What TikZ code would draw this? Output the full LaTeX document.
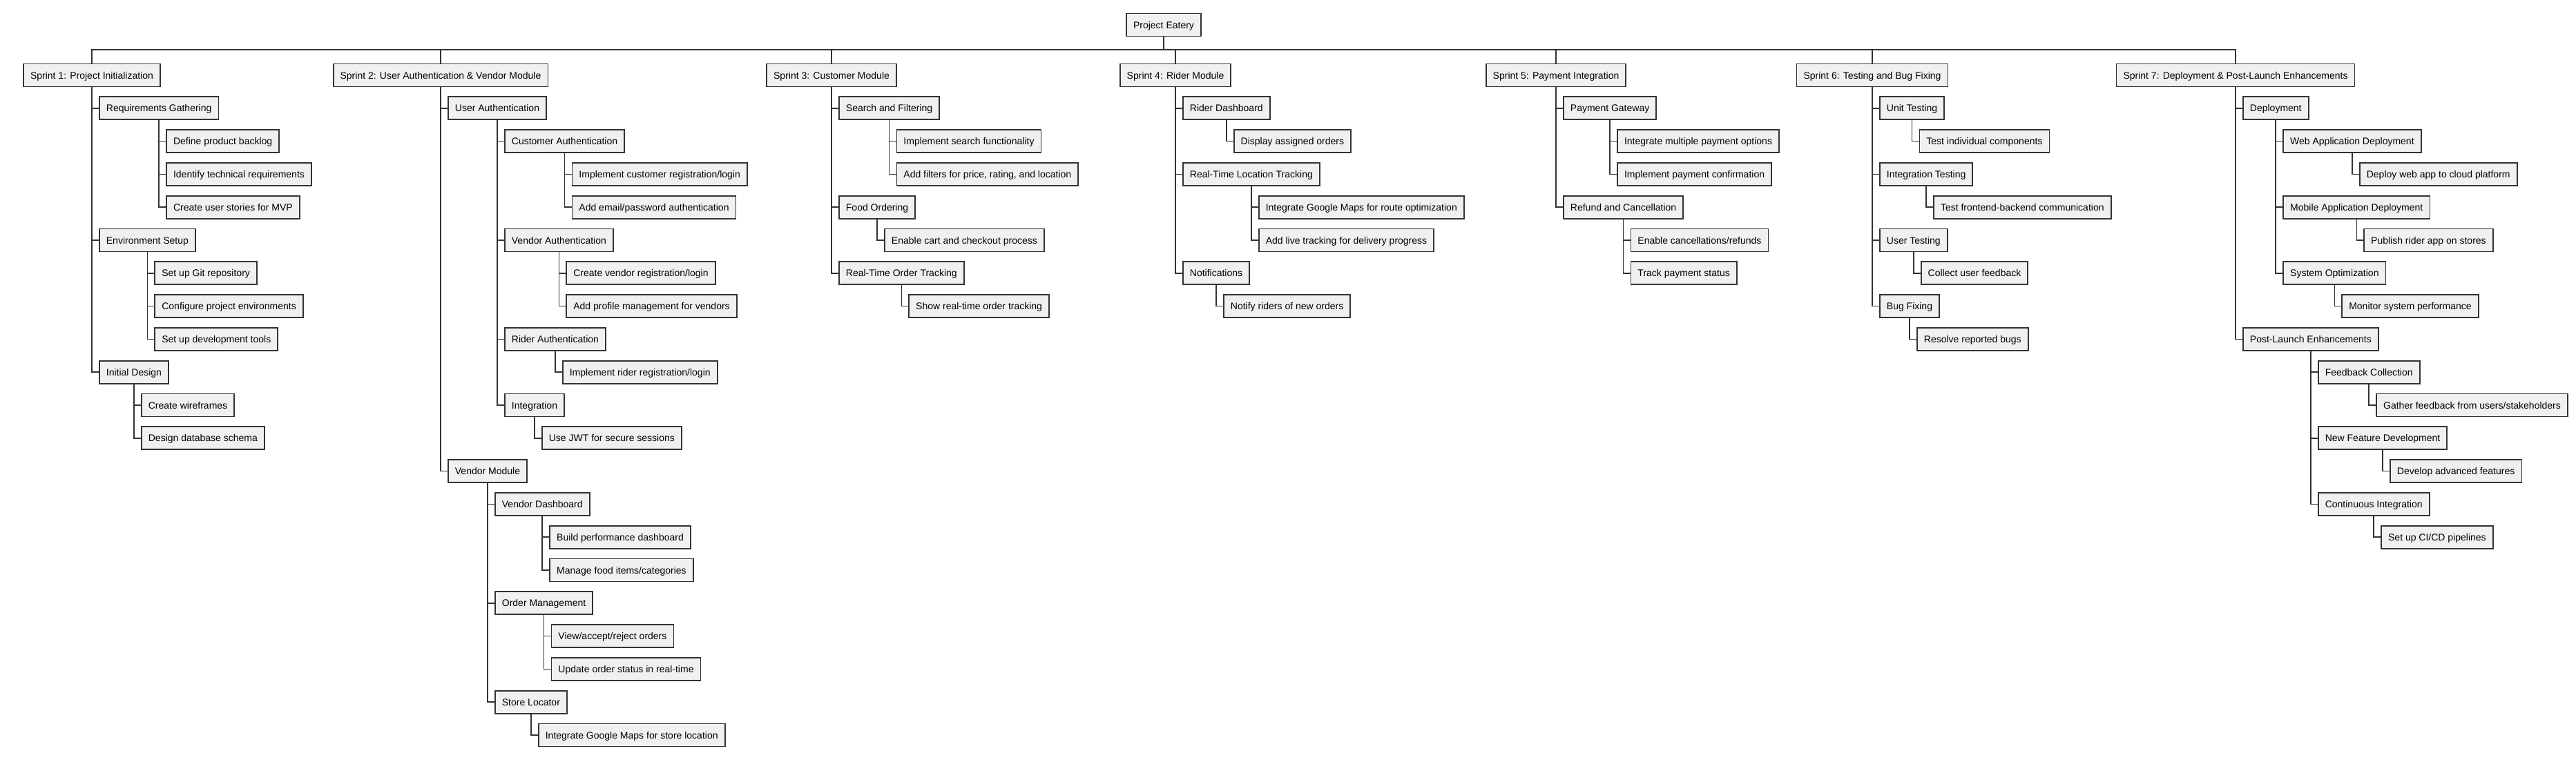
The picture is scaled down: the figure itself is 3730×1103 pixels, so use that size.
\documentclass[tikz,border=0pt]{standalone}
\usepackage{fontspec}
\setmainfont{Liberation Sans}
\definecolor{boxfill}{HTML}{F0F0F0}
\definecolor{boxline}{HTML}{333333}

\begin{document}
\begin{tikzpicture}[x=1pt,y=-1pt,font=\fontsize{14}{16}\selectfont,
  task/.style={draw=boxline,fill=boxfill,line width=1.8pt,inner xsep=10pt,inner ysep=0pt,
    minimum height=33pt,text height=11pt,text depth=1pt},
  sub/.style={task,anchor=west,xshift=10pt},
  link/.style={draw=boxline,line width=1.6pt}]
  \useasboundingbox (0,0) rectangle (3730,1103);

  % root and sprints
  \node[task] (root) at (1685,36) {Project Eatery};
  \coordinate (bus) at (0,72);
  \node[task] (s1) at (133,109) {Sprint 1: Project Initialization};
  \node[task] (s2) at (638,109) {Sprint 2: User Authentication \& Vendor Module};
  \node[task] (s3) at (1204,109) {Sprint 3: Customer Module};
  \node[task] (s4) at (1702,109) {Sprint 4: Rider Module};
  \node[task] (s5) at (2253,109) {Sprint 5: Payment Integration};
  \node[task] (s6) at (2711,109) {Sprint 6: Testing and Bug Fixing};
  \node[task] (s7) at (3237,109) {Sprint 7: Deployment \& Post-Launch Enhancements};
  \draw[link] (root.south) |- (bus -| s1.north) -- (s1.north);
  \draw[link] (root.south) |- (bus -| s2.north) -- (s2.north);
  \draw[link] (root.south) |- (bus -| s3.north) -- (s3.north);
  \draw[link] (root.south) |- (bus -| s4.north) -- (s4.north);
  \draw[link] (root.south) |- (bus -| s5.north) -- (s5.north);
  \draw[link] (root.south) |- (bus -| s6.north) -- (s6.north);
  \draw[link] (root.south) |- (bus -| s7.north) -- (s7.north);

  % Sprint 1
  \node[sub] (s1a) at (s1.south |- 0,156.8) {Requirements Gathering};
  \node[sub] (s1a1) at (s1a.south |- 0,204.6) {Define product backlog};
  \node[sub] (s1a2) at (s1a.south |- 0,252.4) {Identify technical requirements};
  \node[sub] (s1a3) at (s1a.south |- 0,300.2) {Create user stories for MVP};
  \node[sub] (s1b) at (s1.south |- 0,348) {Environment Setup};
  \node[sub] (s1b1) at (s1b.south |- 0,395.8) {Set up Git repository};
  \node[sub] (s1b2) at (s1b.south |- 0,443.6) {Configure project environments};
  \node[sub] (s1b3) at (s1b.south |- 0,491.4) {Set up development tools};
  \node[sub] (s1c) at (s1.south |- 0,539.2) {Initial Design};
  \node[sub] (s1c1) at (s1c.south |- 0,587) {Create wireframes};
  \node[sub] (s1c2) at (s1c.south |- 0,634.8) {Design database schema};
  \draw[link] (s1.south) |- (s1a.west) (s1.south) |- (s1b.west) (s1.south) |- (s1c.west);
  \draw[link] (s1a.south) |- (s1a1.west) (s1a.south) |- (s1a2.west) (s1a.south) |- (s1a3.west);
  \draw[link] (s1b.south) |- (s1b1.west) (s1b.south) |- (s1b2.west) (s1b.south) |- (s1b3.west);
  \draw[link] (s1c.south) |- (s1c1.west) (s1c.south) |- (s1c2.west);

  % Sprint 2
  \node[sub] (s2a) at (s2.south |- 0,156.8) {User Authentication};
  \node[sub] (s2a1) at (s2a.south |- 0,204.6) {Customer Authentication};
  \node[sub] (s2a11) at (s2a1.south |- 0,252.4) {Implement customer registration/login};
  \node[sub] (s2a12) at (s2a1.south |- 0,300.2) {Add email/password authentication};
  \node[sub] (s2a2) at (s2a.south |- 0,348) {Vendor Authentication};
  \node[sub] (s2a21) at (s2a2.south |- 0,395.8) {Create vendor registration/login};
  \node[sub] (s2a22) at (s2a2.south |- 0,443.6) {Add profile management for vendors};
  \node[sub] (s2a3) at (s2a.south |- 0,491.4) {Rider Authentication};
  \node[sub] (s2a31) at (s2a3.south |- 0,539.2) {Implement rider registration/login};
  \node[sub] (s2a4) at (s2a.south |- 0,587) {Integration};
  \node[sub] (s2a41) at (s2a4.south |- 0,634.8) {Use JWT for secure sessions};
  \node[sub] (s2b) at (s2.south |- 0,682.6) {Vendor Module};
  \node[sub] (s2b1) at (s2b.south |- 0,730.4) {Vendor Dashboard};
  \node[sub] (s2b11) at (s2b1.south |- 0,778.2) {Build performance dashboard};
  \node[sub] (s2b12) at (s2b1.south |- 0,826) {Manage food items/categories};
  \node[sub] (s2b2) at (s2b.south |- 0,873.8) {Order Management};
  \node[sub] (s2b21) at (s2b2.south |- 0,921.6) {View/accept/reject orders};
  \node[sub] (s2b22) at (s2b2.south |- 0,969.4) {Update order status in real-time};
  \node[sub] (s2b3) at (s2b.south |- 0,1017.2) {Store Locator};
  \node[sub] (s2b31) at (s2b3.south |- 0,1065) {Integrate Google Maps for store location};
  \draw[link] (s2.south) |- (s2a.west) (s2.south) |- (s2b.west);
  \draw[link] (s2a.south) |- (s2a1.west) (s2a.south) |- (s2a2.west) (s2a.south) |- (s2a3.west) (s2a.south) |- (s2a4.west);
  \draw[link] (s2a1.south) |- (s2a11.west) (s2a1.south) |- (s2a12.west);
  \draw[link] (s2a2.south) |- (s2a21.west) (s2a2.south) |- (s2a22.west);
  \draw[link] (s2a3.south) |- (s2a31.west);
  \draw[link] (s2a4.south) |- (s2a41.west);
  \draw[link] (s2b.south) |- (s2b1.west) (s2b.south) |- (s2b2.west) (s2b.south) |- (s2b3.west);
  \draw[link] (s2b1.south) |- (s2b11.west) (s2b1.south) |- (s2b12.west);
  \draw[link] (s2b2.south) |- (s2b21.west) (s2b2.south) |- (s2b22.west);
  \draw[link] (s2b3.south) |- (s2b31.west);

  % Sprint 3
  \node[sub] (s3a) at (s3.south |- 0,156.8) {Search and Filtering};
  \node[sub] (s3a1) at (s3a.south |- 0,204.6) {Implement search functionality};
  \node[sub] (s3a2) at (s3a.south |- 0,252.4) {Add filters for price, rating, and location};
  \node[sub] (s3b) at (s3.south |- 0,300.2) {Food Ordering};
  \node[sub] (s3b1) at (s3b.south |- 0,348) {Enable cart and checkout process};
  \node[sub] (s3c) at (s3.south |- 0,395.8) {Real-Time Order Tracking};
  \node[sub] (s3c1) at (s3c.south |- 0,443.6) {Show real-time order tracking};
  \draw[link] (s3.south) |- (s3a.west) (s3.south) |- (s3b.west) (s3.south) |- (s3c.west);
  \draw[link] (s3a.south) |- (s3a1.west) (s3a.south) |- (s3a2.west);
  \draw[link] (s3b.south) |- (s3b1.west);
  \draw[link] (s3c.south) |- (s3c1.west);

  % Sprint 4
  \node[sub] (s4a) at (s4.south |- 0,156.8) {Rider Dashboard};
  \node[sub] (s4a1) at (s4a.south |- 0,204.6) {Display assigned orders};
  \node[sub] (s4b) at (s4.south |- 0,252.4) {Real-Time Location Tracking};
  \node[sub] (s4b1) at (s4b.south |- 0,300.2) {Integrate Google Maps for route optimization};
  \node[sub] (s4b2) at (s4b.south |- 0,348) {Add live tracking for delivery progress};
  \node[sub] (s4c) at (s4.south |- 0,395.8) {Notifications};
  \node[sub] (s4c1) at (s4c.south |- 0,443.6) {Notify riders of new orders};
  \draw[link] (s4.south) |- (s4a.west) (s4.south) |- (s4b.west) (s4.south) |- (s4c.west);
  \draw[link] (s4a.south) |- (s4a1.west);
  \draw[link] (s4b.south) |- (s4b1.west) (s4b.south) |- (s4b2.west);
  \draw[link] (s4c.south) |- (s4c1.west);

  % Sprint 5
  \node[sub] (s5a) at (s5.south |- 0,156.8) {Payment Gateway};
  \node[sub] (s5a1) at (s5a.south |- 0,204.6) {Integrate multiple payment options};
  \node[sub] (s5a2) at (s5a.south |- 0,252.4) {Implement payment confirmation};
  \node[sub] (s5b) at (s5.south |- 0,300.2) {Refund and Cancellation};
  \node[sub] (s5b1) at (s5b.south |- 0,348) {Enable cancellations/refunds};
  \node[sub] (s5b2) at (s5b.south |- 0,395.8) {Track payment status};
  \draw[link] (s5.south) |- (s5a.west) (s5.south) |- (s5b.west);
  \draw[link] (s5a.south) |- (s5a1.west) (s5a.south) |- (s5a2.west);
  \draw[link] (s5b.south) |- (s5b1.west) (s5b.south) |- (s5b2.west);

  % Sprint 6
  \node[sub] (s6a) at (s6.south |- 0,156.8) {Unit Testing};
  \node[sub] (s6a1) at (s6a.south |- 0,204.6) {Test individual components};
  \node[sub] (s6b) at (s6.south |- 0,252.4) {Integration Testing};
  \node[sub] (s6b1) at (s6b.south |- 0,300.2) {Test frontend-backend communication};
  \node[sub] (s6c) at (s6.south |- 0,348) {User Testing};
  \node[sub] (s6c1) at (s6c.south |- 0,395.8) {Collect user feedback};
  \node[sub] (s6d) at (s6.south |- 0,443.6) {Bug Fixing};
  \node[sub] (s6d1) at (s6d.south |- 0,491.4) {Resolve reported bugs};
  \draw[link] (s6.south) |- (s6a.west) (s6.south) |- (s6b.west) (s6.south) |- (s6c.west) (s6.south) |- (s6d.west);
  \draw[link] (s6a.south) |- (s6a1.west);
  \draw[link] (s6b.south) |- (s6b1.west);
  \draw[link] (s6c.south) |- (s6c1.west);
  \draw[link] (s6d.south) |- (s6d1.west);

  % Sprint 7
  \node[sub] (s7a) at (s7.south |- 0,156.8) {Deployment};
  \node[sub] (s7a1) at (s7a.south |- 0,204.6) {Web Application Deployment};
  \node[sub] (s7a11) at (s7a1.south |- 0,252.4) {Deploy web app to cloud platform};
  \node[sub] (s7a2) at (s7a.south |- 0,300.2) {Mobile Application Deployment};
  \node[sub] (s7a21) at (s7a2.south |- 0,348) {Publish rider app on stores};
  \node[sub] (s7a3) at (s7a.south |- 0,395.8) {System Optimization};
  \node[sub] (s7a31) at (s7a3.south |- 0,443.6) {Monitor system performance};
  \node[sub] (s7b) at (s7.south |- 0,491.4) {Post-Launch Enhancements};
  \node[sub] (s7b1) at (s7b.south |- 0,539.2) {Feedback Collection};
  \node[sub] (s7b11) at (s7b1.south |- 0,587) {Gather feedback from users/stakeholders};
  \node[sub] (s7b2) at (s7b.south |- 0,634.8) {New Feature Development};
  \node[sub] (s7b21) at (s7b2.south |- 0,682.6) {Develop advanced features};
  \node[sub] (s7b3) at (s7b.south |- 0,730.4) {Continuous Integration};
  \node[sub] (s7b31) at (s7b3.south |- 0,778.2) {Set up CI/CD pipelines};
  \draw[link] (s7.south) |- (s7a.west) (s7.south) |- (s7b.west);
  \draw[link] (s7a.south) |- (s7a1.west) (s7a.south) |- (s7a2.west) (s7a.south) |- (s7a3.west);
  \draw[link] (s7a1.south) |- (s7a11.west);
  \draw[link] (s7a2.south) |- (s7a21.west);
  \draw[link] (s7a3.south) |- (s7a31.west);
  \draw[link] (s7b.south) |- (s7b1.west) (s7b.south) |- (s7b2.west) (s7b.south) |- (s7b3.west);
  \draw[link] (s7b1.south) |- (s7b11.west);
  \draw[link] (s7b2.south) |- (s7b21.west);
  \draw[link] (s7b3.south) |- (s7b31.west);
\end{tikzpicture}
\end{document}
